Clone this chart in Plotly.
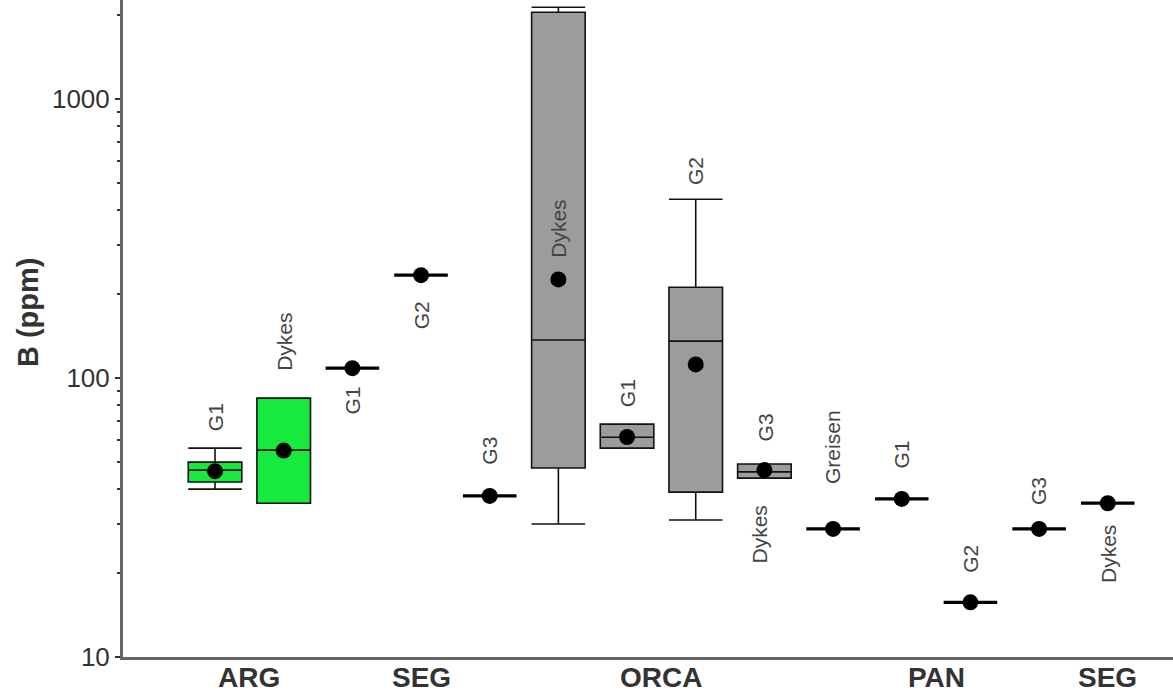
import math
import plotly.graph_objects as go

# Boron contents (ppm) by rock unit, one slot per unit along the x axis
slots = list(range(1, 15))
units = ["G1", "Dykes", "G1", "G2", "G3", "Dykes", "G1", "G2", "G3",
         "Greisen", "G1", "G2", "G3", "Dykes"]
provinces = ["ARG", "ARG", "SEG", "SEG", "SEG", "ORCA", "ORCA", "ORCA", "ORCA",
             "ORCA", "PAN", "PAN", "PAN", "SEG"]

# Box statistics (None where a unit has a single analysis)
low = [40.0, 35.6, None, None, None, 30.0, 56.1, 31.0, 43.8, None, None, None, None, None]
q1 = [42.4, 35.6, None, None, None, 47.6, 56.1, 39.0, 43.8, None, None, None, None, None]
med = [46.8, 55.2, None, None, None, 137.0, 61.4, 135.7, 46.1, None, None, None, None, None]
q3 = [50.0, 84.8, None, None, None, 2051.0, 68.4, 211.8, 49.2, None, None, None, None, None]
high = [56.1, 84.8, None, None, None, 2138.0, 68.4, 438.0, 49.2, None, None, None, None, None]
mean = [46.4, 55.0, 108.6, 234.0, 37.8, 226.0, 61.5, 112.0, 46.8, 28.8, 36.9, 15.7, 28.8, 35.6]

group_ticks = [1.5, 4, 7.5, 11.5, 14]
group_names = ["ARG", "SEG", "ORCA", "PAN", "SEG"]

# Unit labels: slot, text, which statistic they hang from, pixel offset, x shift
unit_labels = [
    (1, "G1", "high", 31, 0),
    (2, "Dykes", "high", 56, 0),
    (3, "G1", "mean", -32, 0),
    (4, "G2", "mean", -40, 0),
    (5, "G3", "mean", 45, 0),
    (6, "Dykes", "mean", 51, 0),
    (7, "G1", "high", 31, 0),
    (8, "G2", "high", 28, 0),
    (9, "G3", "high", 37, 1),
    (9, "Dykes", "low", -56, -5),
    (10, "Greisen", "mean", 82, 0),
    (11, "G1", "mean", 44, 0),
    (12, "G2", "mean", 44, 0),
    (13, "G3", "mean", 38, 0),
    (14, "Dykes", "mean", -51, 0),
]

GREEN = "#16ea3c"
GREY = "#9c9c9c"
BOX_W = 0.78
FONT = "Arial, Liberation Sans, sans-serif"

fig = go.Figure()

for i, s in enumerate(slots):
    fill = GREEN if provinces[i] == "ARG" else GREY
    if q1[i] is not None:
        fig.add_trace(go.Box(
            x=[s], q1=[q1[i]], median=[med[i]], q3=[q3[i]],
            lowerfence=[low[i]], upperfence=[high[i]],
            width=BOX_W, whiskerwidth=1, boxpoints=False,
            fillcolor=fill, line=dict(color="#111111", width=1.6),
            hoverinfo="skip", showlegend=False,
        ))
    else:
        # single analysis: a flat bar at its value
        fig.add_trace(go.Box(
            x=[s], q1=[mean[i]], median=[mean[i]], q3=[mean[i]],
            lowerfence=[mean[i]], upperfence=[mean[i]],
            width=BOX_W, whiskerwidth=0, boxpoints=False,
            fillcolor="#000000", line=dict(color="#000000", width=3.2),
            hoverinfo="skip", showlegend=False,
        ))

# mean values
fig.add_trace(go.Scatter(
    x=slots, y=mean, mode="markers",
    marker=dict(color="#000000", size=16, line=dict(width=0)),
    hoverinfo="skip", showlegend=False,
))

stats = {"high": high, "low": low, "mean": mean}
for s, text, key, off, dx in unit_labels:
    v = stats[key][s - 1]
    fig.add_annotation(
        x=s, y=math.log10(v), text=text, textangle=-90,
        showarrow=False, xanchor="center", yanchor="middle",
        yshift=off, xshift=dx,
        font=dict(family=FONT, size=21, color="#444444"),
    )

# province names under the axis
for gx, gname in zip(group_ticks, group_names):
    fig.add_annotation(
        x=gx, xref="x", y=0, yref="paper", text=f"<b>{gname}</b>",
        showarrow=False, xanchor="center", yanchor="middle", yshift=-20,
        borderpad=0,
        font=dict(family=FONT, size=28, color="#333333"),
    )

# y-axis title
fig.add_annotation(
    x=0, xref="paper", y=0.525, yref="paper", text="<b>B (ppm)</b>",
    textangle=-90, showarrow=False, xanchor="center", yanchor="middle",
    xshift=-95, font=dict(family=FONT, size=29, color="#333333"),
)

minor_vals = [m * 10 ** d for d in (1, 2, 3) for m in range(2, 10)]

fig.update_layout(
    width=1173, height=693,
    margin=dict(l=123, r=0, t=0, b=36),
    paper_bgcolor="white", plot_bgcolor="white",
    font=dict(family=FONT, color="#333333"),
    xaxis=dict(
        range=[-0.34, 14.95], showgrid=False, zeroline=False, automargin=False,
        showline=True, linecolor="#666666", linewidth=3,
        showticklabels=False, ticks="",
    ),
    yaxis=dict(
        type="log", range=[1, 3.356], showgrid=False, zeroline=False, automargin=False,
        showline=True, linecolor="#666666", linewidth=3,
        tickmode="array", tickvals=[10, 100, 1000], ticktext=["10", "100", "1000"],
        ticks="outside", ticklen=5, tickwidth=1.5, tickcolor="#333333",
        tickfont=dict(size=26, color="#333333"),
        minor=dict(tickmode="array", tickvals=minor_vals, ticks="outside",
                   ticklen=3, tickwidth=1.5, tickcolor="#333333"),
    ),
)

fig.write_html("out.html")
